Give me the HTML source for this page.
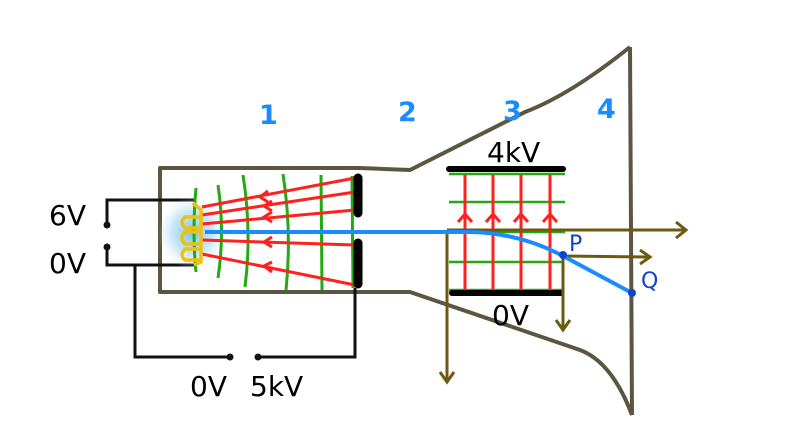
<!DOCTYPE html>
<html><head><style>body{margin:0;background:#fff}svg{display:block}</style></head><body>
<svg width="800" height="434" viewBox="0 0 800 434" xmlns="http://www.w3.org/2000/svg" font-family="DejaVu Sans, Liberation Sans, sans-serif">
<defs>
<radialGradient id="g" cx="0.5" cy="0.5" r="0.5"><stop offset="0" stop-color="#6ec0ee" stop-opacity="0.95"/><stop offset="0.6" stop-color="#a8d8f3" stop-opacity="0.6"/><stop offset="1" stop-color="#d0ecfa" stop-opacity="0"/></radialGradient>
</defs>
<g fill="none" stroke="#5c5540" stroke-width="4" stroke-linejoin="round">
<path d="M360,168 L160,168 L160,292 L360,292"/>
<path d="M360,168 L410,170 L525,112 Q570,95 630,47"/>
<path d="M360,292 L410,292 L580,350 Q612,362 632,415"/>
<path d="M630,47 L632,415"/>
</g>
<g fill="none" stroke="#111" stroke-width="3">
<path d="M107,225 L107,200 L195,200"/>
<path d="M107,247 L107,265 L195,265"/>
<path d="M135,265 L135,357 L230,357"/>
<path d="M258,357 L355,357 L355,288"/>
</g>
<g fill="#111"><circle cx="107" cy="225" r="3.5"/><circle cx="107" cy="247" r="3.5"/><circle cx="230" cy="357" r="3.5"/><circle cx="258" cy="357" r="3.5"/></g>
<ellipse cx="192" cy="233" rx="34" ry="36" fill="url(#g)"/>
<g fill="none" stroke="#22aa11" stroke-width="3">
<path d="M196,188 Q192,232 196,272"/>
<path d="M218,185 Q225,232 218,278"/>
<path d="M243,175 Q252,232 245,287"/>
<path d="M283,174 Q292,232 286,290"/>
<path d="M321,175 L322,290"/>
<path d="M352,176 L353,288"/>
</g>
<g stroke="#ff2020" stroke-width="3" fill="none">
<path d="M355,178 L202,207"/>
<path d="M355,192 L202,215"/>
<path d="M355,210 L202,224"/>
<path d="M355,245 L202,240"/>
<path d="M355,285 L202,254"/>
<path d="M268,191 L260,197 L268,202"/>
<path d="M272,201 L264,206 L272,211"/>
<path d="M272,212 L264,217 L272,222"/>
<path d="M272,237 L264,242 L272,247"/>
<path d="M272,262 L264,266 L272,272"/>
</g>
<g fill="none" stroke="#f0c010" stroke-width="3.5" stroke-linejoin="round">
<path d="M193,203 L201,210 L201,262 L194,265"/>
<path d="M201,217 L185,217 Q179,222 185,228 L201,228"/>
<path d="M201,232 L185,232 Q179,238 185,244 L201,244"/>
<path d="M201,249 L185,249 Q179,255 185,260 L201,260"/>
</g>
<g stroke="#000" stroke-width="9" stroke-linecap="round"><path d="M358,178 L358,213"/><path d="M358,243 L358,284"/></g>
<g stroke="#22aa11" stroke-width="2.5"><path d="M449,174 L565,174"/><path d="M449,202 L565,202"/><path d="M449,232 L565,232"/><path d="M449,262 L562,262"/><path d="M449,290 L562,290"/></g>
<g stroke="#ff2020" stroke-width="3" fill="none">
<path d="M465,175 L465,289"/><path d="M493,175 L493,289"/><path d="M521,175 L521,289"/><path d="M550,175 L550,289"/>
<path d="M458,222 L465,214 L472,222"/><path d="M486,222 L493,214 L500,222"/><path d="M514,222 L521,214 L528,222"/><path d="M543,222 L550,214 L557,222"/>
</g>
<g stroke="#000" stroke-width="6" stroke-linecap="round"><path d="M449,169 L563,169"/><path d="M452,293 L561,293"/></g>
<g stroke="#6b5a10" stroke-width="3" fill="none">
<path d="M447,230 L686,230"/><path d="M676,222 L686,230 L676,238"/>
<path d="M447,230 L447,382"/><path d="M440,372 L447,382 L454,372"/>
<path d="M563,256 L650,257"/><path d="M640,250 L650,257 L640,264"/>
<path d="M563,256 L563,330"/><path d="M556,320 L563,330 L570,320"/>
</g>
<path d="M205,232 L470,232 Q520,233 563,256 L632,293" fill="none" stroke="#1a8cff" stroke-width="4"/>
<circle cx="563" cy="255" r="4" fill="#1144cc"/><circle cx="632" cy="293" r="4" fill="#1144cc"/>
<g font-size="28" fill="#000">
<text x="49" y="225">6V</text><text x="49" y="273">0V</text>
<text x="190" y="396">0V</text><text x="250" y="396">5kV</text>
<text x="487" y="162">4kV</text><text x="492" y="325">0V</text>
</g>
<g font-size="22" fill="#1144cc"><text x="569" y="251">P</text><text x="641" y="288">Q</text></g>
<g font-size="27" font-weight="bold" fill="#1a8cff">
<text x="259" y="124">1</text><text x="398" y="121">2</text><text x="503" y="120">3</text><text x="597" y="118">4</text>
</g>
</svg>
</body></html>
